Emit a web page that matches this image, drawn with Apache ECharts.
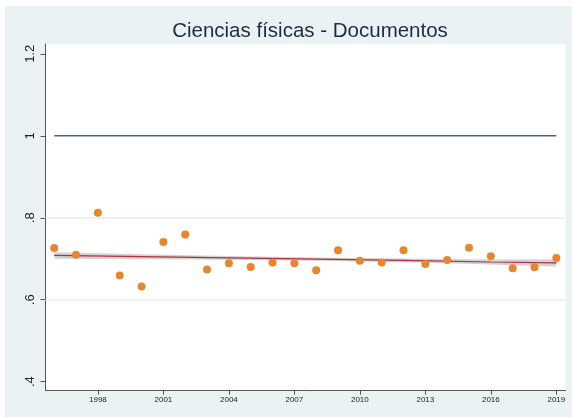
<!DOCTYPE html>
<html>
<head>
<meta charset="utf-8">
<script src="https://cdn.jsdelivr.net/npm/echarts@6/dist/echarts.min.js"></script>
<style>
html,body{margin:0;padding:0;background:#fff;}
#wrap{position:relative;width:572px;height:417px;background:#fff;overflow:hidden;}
#chart{position:absolute;left:5px;top:6px;width:567px;height:411px;}
</style>
</head>
<body>
<div id="wrap"><div id="chart"></div></div>
<script>
const titleText = 'Ciencias físicas - Documentos';
const years = [1996,1997,1998,1999,2000,2001,2002,2003,2004,2005,2006,2007,2008,2009,2010,2011,2012,2013,2014,2015,2016,2017,2018,2019];
const values = [0.726,0.710,0.812,0.659,0.632,0.741,0.759,0.674,0.689,0.680,0.691,0.689,0.672,0.721,0.695,0.691,0.721,0.687,0.697,0.727,0.706,0.677,0.679,0.702];
const fitYears = [1996,2000,2004,2008,2012,2016,2019];
const fitValues = [0.708,0.705,0.702,0.699,0.696,0.692,0.690];
const ciUpper = [0.716,0.711,0.7065,0.703,0.7005,0.698,0.699];
const ciLower = [0.700,0.699,0.6975,0.695,0.6915,0.686,0.681];
const refYears = [1996,2019];
const refValues = [1,1];
const xTicks = [1998,2001,2004,2007,2010,2013,2016,2019];
const yTicks = [0.4,0.6,0.8,1.0,1.2];
const yGrid = [0.6,0.8];
const yTickLabels = ['.4','.6','.8','1','1.2'];

const chart = echarts.init(document.getElementById('chart'), null, {renderer:'canvas'});
const fmtY = v => {
  let best = 0;
  for (let i = 0; i < yTicks.length; i++) if (Math.abs(yTicks[i]-v) < Math.abs(yTicks[best]-v)) best = i;
  return yTickLabels[best];
};
const option = {
  backgroundColor: '#eaf2f3',
  animation: false,
  title: {
    text: titleText,
    left: 300, top: 10, textAlign: 'center',
    textStyle: {fontFamily: 'Liberation Sans, Arial, sans-serif', fontSize: 20.5, fontWeight: 'normal', color: '#1e2b48'}
  },
  grid: {left: 40.5, right: 6.5, top: 38, bottom: 26.3, show: true, backgroundColor: '#ffffff', borderWidth: 0},
  xAxis: {
    type: 'value', min: 1995.6, max: 2019.42,
    axisLine: {show: true, lineStyle: {color: '#555', width: 1}},
    axisTick: {show: true, length: 4, lineStyle: {color: '#555'}, customValues: xTicks},
    axisLabel: {customValues: xTicks, fontSize: 8, color: '#222', margin: 5, formatter: v => String(Math.round(v)), fontFamily: 'Liberation Sans, Arial, sans-serif'},
    splitLine: {show: false}
  },
  yAxis: {
    type: 'value', min: 0.378, max: 1.224,
    axisLine: {show: true, lineStyle: {color: '#555', width: 1}},
    axisTick: {show: true, length: 5, lineStyle: {color: '#555'}, customValues: yTicks},
    axisLabel: {customValues: yTicks, rotate: 90, fontSize: 13, color: '#222', margin: 9, formatter: fmtY, fontFamily: 'Liberation Sans, Arial, sans-serif'},
    splitLine: {show: false}
  },
  series: [
    {
      type: 'line', data: [], z: 1, silent: true,
      markLine: {
        silent: true, symbol: 'none', label: {show: false},
        lineStyle: {color: '#e4eef0', width: 1.5, type: 'solid'},
        data: yGrid.map(v => ({yAxis: v}))
      }
    },
    {
      type: 'line', z: 2, silent: true, symbol: 'none',
      data: refYears.map((y,i) => [y, refValues[i]]),
      lineStyle: {color: '#45668a', width: 1.5}
    },
    {
      type: 'custom', z: 3, silent: true,
      data: fitYears.map((y,i) => [y, ciUpper[i], ciLower[i]]),
      encode: {x: 0, y: [1,2]},
      renderItem: function(params, api) {
        if (params.dataIndex !== 0) return null;
        const pts = [];
        for (let i = 0; i < fitYears.length; i++) pts.push(api.coord([fitYears[i], ciUpper[i]]));
        for (let i = fitYears.length - 1; i >= 0; i--) pts.push(api.coord([fitYears[i], ciLower[i]]));
        return {type: 'polygon', shape: {points: pts}, style: {fill: 'rgba(175,175,175,0.55)', stroke: 'none'}};
      }
    },
    {
      type: 'line', z: 4, silent: true, symbol: 'none',
      data: fitYears.map((y,i) => [y, fitValues[i]]),
      lineStyle: {color: '#b0303c', width: 1.2}
    },
    {
      type: 'scatter', z: 5, symbol: 'circle', symbolSize: 8,
      data: years.map((y,i) => [y, values[i]]),
      itemStyle: {color: '#e8862f', opacity: 1}
    }
  ]
};
chart.setOption(option);
</script>
</body>
</html>
